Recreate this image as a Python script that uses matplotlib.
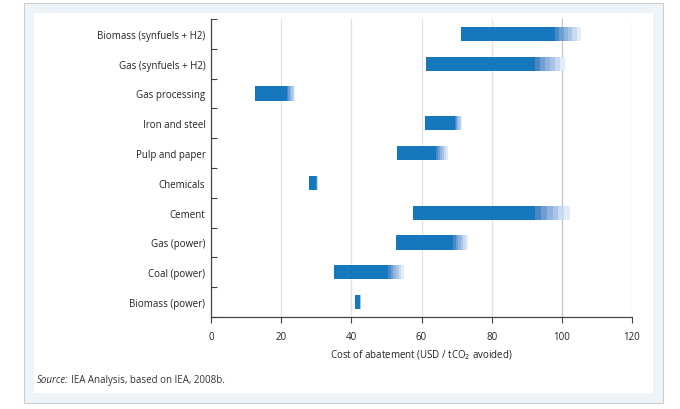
import numpy as np
import matplotlib.pyplot as plt
from matplotlib.patches import Rectangle

# categories, top to bottom
categories = ['Biomass (synfuels + H2)', 'Gas (synfuels + H2)', 'Gas processing',
              'Iron and steel', 'Pulp and paper', 'Chemicals', 'Cement',
              'Gas (power)', 'Coal (power)', 'Biomass (power)']
low = [71.3, 61.3, 12.5, 61.0, 53.0, 28.0, 57.6, 52.7, 35.0, 41.0]
mid = [98.0, 92.4, 21.7, 69.5, 64.0, 30.0, 92.4, 69.0, 50.5, 42.5]
high = [105.5, 101.0, 24.0, 71.5, 67.5, 30.5, 102.3, 73.3, 55.0, 42.7]

xticks = [0, 20, 40, 60, 80, 100, 120]

plt.rcParams['font.family'] = ['Open Sans', 'DejaVu Sans']

fig = plt.figure(figsize=(6.8, 4.1), dpi=100)

# outer frame and inner white panel
fig.patches.append(Rectangle((24 / 680, 1 - 404 / 410), 639 / 680, 400 / 410,
                             transform=fig.transFigure, facecolor='#eef3f7',
                             edgecolor='#c9ced3', linewidth=0.8, zorder=-2))
fig.patches.append(Rectangle((34 / 680, 1 - 394 / 410), 619 / 680, 380 / 410,
                             transform=fig.transFigure, facecolor='white',
                             edgecolor='none', zorder=-1))

ax = fig.add_axes([211 / 680, 1 - 318 / 410, 421 / 680, 298 / 410])
ax.set_facecolor('none')

n = len(categories)
y = np.arange(n)[::-1]
solid = '#1577be'
fades = ['#4a87c6', '#6f9fd0', '#8fb3dc', '#a9c5e5', '#c8daef', '#e2ecf7']
h = 0.47

for yi, lo, mi, hi in zip(y, low, mid, high):
    ax.barh(yi, mi - lo, left=lo, height=h, color=solid, zorder=3)
    if hi > mi:
        edges = np.linspace(mi, hi, len(fades) + 1)
        for k, c in enumerate(fades):
            ax.barh(yi, edges[k + 1] - edges[k], left=edges[k], height=h,
                    color=c, zorder=3)

for xv in xticks[1:]:
    ax.axvline(xv, color='#c4c4c4' if xv == 100 else '#e2e2e2', lw=0.9, zorder=1)

ax.set_xlim(0, 120)
ax.set_ylim(-0.5, n - 0.5)
ax.set_xticks(xticks)
ax.set_yticks(y)
ax.set_yticklabels(categories)
ax.set_yticks(np.arange(-0.5, n, 1.0), minor=True)
ax.tick_params(axis='y', which='major', length=0, labelsize=7, pad=4,
               labelcolor='#222222')
ax.tick_params(axis='y', which='minor', direction='in', length=4,
               color='#444444', width=0.8)
ax.tick_params(axis='x', direction='out', length=4, color='#444444',
               labelsize=7, pad=6, labelcolor='#222222', width=0.8)

for s in ['top', 'right']:
    ax.spines[s].set_visible(False)
for s in ['left', 'bottom']:
    ax.spines[s].set_color('#444444')
    ax.spines[s].set_linewidth(0.9)

ax.set_xlabel('Cost of abatement (USD / tCO$_2$ avoided)', fontsize=7,
              color='#222222', labelpad=4)

fig.text(37 / 680, 1 - 381 / 410, 'Source:', fontsize=7, style='italic',
         color='#333333', va='center')
fig.text(71 / 680, 1 - 381 / 410, 'IEA Analysis, based on IEA, 2008b.',
         fontsize=7, color='#333333', va='center')

fig.savefig('out.png', dpi=100)
